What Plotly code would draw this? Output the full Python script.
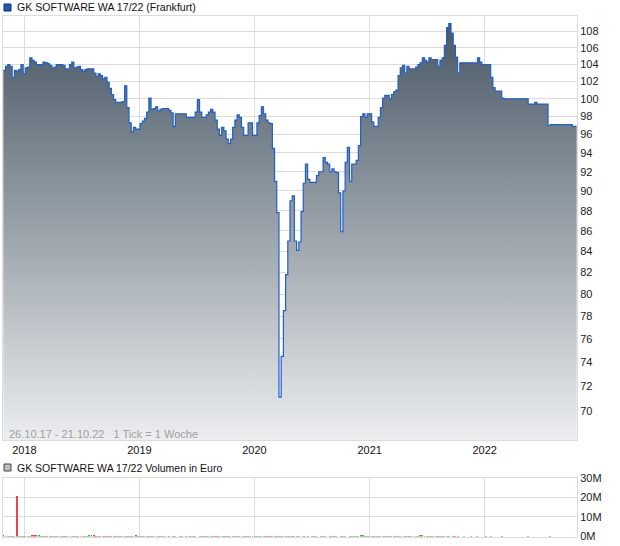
import pandas as pd
import plotly.graph_objects as go

title_main = "GK SOFTWARE WA 17/22 (Frankfurt)"
title_vol = "GK SOFTWARE WA 17/22 Volumen in Euro"
range_note = "26.10.17 - 21.10.22   1 Tick = 1 Woche"

start_date = "2017-10-26"

prices = [
    103.3, 103.8, 104.0, 103.8, 102.5, 103.3, 103.2, 103.4, 104.0, 102.9,
    103.6, 103.7, 104.8, 104.5, 104.3, 104.0, 104.0, 104.0, 104.3, 104.2,
    104.1, 103.9, 103.6, 103.7, 104.0, 104.0, 104.0, 103.9, 103.5, 103.5,
    104.0, 104.3, 103.6, 103.7, 103.8, 103.4, 103.2, 103.4, 103.5, 103.5,
    103.5, 103.0, 102.6, 102.9, 102.7, 102.3, 102.5, 101.9, 101.2, 100.5,
    99.9, 99.6, 99.6, 99.6, 99.7, 101.5, 99.0, 97.3, 96.3, 96.8,
    96.6, 96.6, 97.2, 97.5, 97.8, 98.5, 100.1, 98.8, 98.9, 99.1,
    98.6, 98.8, 98.9, 98.9, 98.9, 98.7, 98.4, 96.9, 98.3, 98.3,
    98.3, 98.3, 98.3, 97.9, 97.9, 97.9, 97.9, 98.5, 99.9, 98.5,
    97.9, 97.9, 98.2, 98.5, 98.8, 98.5, 97.6, 96.6, 95.9, 96.8,
    96.4, 95.5, 95.0, 95.5, 96.8, 97.6, 98.2, 97.9, 96.8, 95.9,
    95.9, 97.3, 97.3, 95.9, 95.9, 97.3, 98.1, 99.1, 98.3, 97.6,
    97.3, 97.2, 94.5, 91.0, 87.8, 71.1, 74.5, 78.5, 81.8, 85.0,
    89.0, 89.5, 85.0, 84.1, 84.9, 87.9, 90.8, 92.8, 91.2, 90.9,
    90.9, 90.9, 91.6, 92.0, 92.0, 93.5, 93.0, 92.8, 92.0, 92.3,
    92.0, 91.9, 89.8, 85.9, 90.0, 93.0, 94.6, 91.0, 92.8, 92.8,
    93.2, 94.8, 98.0, 98.3, 97.9, 98.3, 98.3, 97.4, 96.9, 96.9,
    97.9, 99.0, 100.1, 100.4, 100.4, 100.0, 100.5, 100.8, 101.0, 102.7,
    103.6, 103.9, 103.0, 103.8, 103.5, 103.5, 103.5, 103.7, 104.0, 104.2,
    104.8, 104.5, 104.3, 104.8, 104.6, 104.6, 104.6, 103.8, 104.5, 104.8,
    106.3, 108.5, 109.0, 107.8, 106.3, 104.9, 103.0, 104.2, 104.2, 104.2,
    104.2, 104.2, 104.2, 104.2, 104.2, 104.8, 104.3, 104.0, 104.0, 104.0,
    104.0, 102.5, 101.3, 100.9, 100.9, 100.9, 100.1, 100.0, 100.0, 100.0,
    100.0, 100.0, 100.0, 100.0, 100.0, 100.0, 100.0, 100.0, 99.4, 99.4,
    99.4, 99.6, 99.4, 99.4, 99.4, 99.4, 99.4, 97.0, 97.1, 97.1,
    97.1, 97.1, 97.1, 97.1, 97.1, 97.1, 97.1, 97.1, 96.9, 96.9,
    96.9,
]

volumes_m = [
    0.5, 0.4, 0.3, 0.4, 0.3, 0.2, 21.0, 0.3, 0.4, 0.3,
    0.3, 0.2, 0.4, 0.6, 0.8, 0.9, 0.5, 0.3, 0.2, 0.3,
    0.2, 0.3, 0.2, 0.2, 0.3, 0.2, 0.3, 0.2, 0.2, 0.3,
    0.2, 0.3, 0.2, 0.2, 0.3, 0.2, 0.2, 0.3, 0.2, 0.5,
    0.7, 0.6, 0.4, 0.3, 0.3, 0.2, 0.3, 0.3, 0.2, 0.4,
    0.3, 0.2, 0.3, 0.2, 0.4, 0.3, 0.2, 0.3, 0.2, 0.4,
    1.0, 0.4, 0.2, 0.3, 0.2, 0.1, 0.2, 0.2, 0.1, 0.2,
    0.1, 0.2, 0.1, 0.1, 0.2, 0.1, 0.0, 0.2, 0.1, 0.0,
    0.2, 0.1, 0.0, 0.2, 0.1, 0.1, 0.2, 0.1, 0.0, 0.2,
    0.1, 0.2, 0.1, 0.1, 0.3, 0.1, 0.2, 0.1, 0.2, 0.3,
    0.2, 0.3, 0.4, 0.2, 0.3, 0.2, 0.1, 0.2, 0.3, 0.2,
    0.1, 0.2, 0.2, 0.1, 0.2, 0.1, 0.2, 0.1, 0.1, 0.2,
    0.2, 0.1, 0.3, 0.2, 0.1, 0.3, 0.2, 0.1, 0.2, 0.1,
    0.2, 0.1, 0.1, 0.2, 0.1, 0.0, 0.1, 0.2, 0.1, 0.0,
    0.1, 0.2, 0.1, 0.0, 0.1, 0.1, 0.2, 0.0, 0.1, 0.1,
    0.2, 0.1, 0.0, 0.1, 0.2, 0.1, 0.0, 0.1, 0.2, 0.1,
    0.1, 0.2, 0.5, 0.7, 0.3, 0.2, 0.1, 0.2, 0.1, 0.2,
    0.1, 0.2, 0.1, 0.2, 0.1, 0.3, 0.2, 0.1, 0.2, 0.1,
    0.2, 0.1, 0.1, 0.2, 0.3, 0.1, 0.2, 0.1, 0.2, 0.5,
    0.6, 0.2, 0.1, 0.2, 0.1, 0.2, 0.1, 0.1, 0.2, 0.1,
    0.1, 0.2, 0.1, 0.0, 0.1, 0.2, 0.1, 0.0, 0.0, 0.1,
    0.0, 0.0, 0.1, 0.0, 0.0, 0.1, 0.0, 0.0, 0.0, 0.1,
    0.0, 0.3, 0.0, 0.0, 0.0, 0.0, 0.1, 0.0, 0.0, 0.0,
    0.0, 0.0, 0.0, 0.0, 0.0, 0.0, 0.0, 0.0, 0.3, 0.0,
    0.0, 0.0, 0.0, 0.0, 0.0, 0.0, 0.0, 0.0, 0.1, 0.0,
    0.0, 0.0, 0.0, 0.0, 0.0, 0.0, 0.0, 0.0, 0.0, 0.0,
    0.0,
]

price_ticks = list(range(70, 110, 2))
vol_ticks = [0, 10e6, 20e6, 30e6]
vol_tick_labels = ["0M", "10M", "20M", "30M"]
year_ticks = ["2018-01-01", "2019-01-01", "2020-01-01", "2021-01-01", "2022-01-01"]
year_labels = ["2018", "2019", "2020", "2021", "2022"]

dates = pd.date_range(start_date, periods=len(prices), freq="7D")
volumes = [v * 1e6 for v in volumes_m]
vol_colors = ["#e8474b"] + [
    "#3cb44b" if prices[i] >= prices[i - 1] else "#e8474b" for i in range(1, len(prices))
]

W, H = 620, 546
FONT = "Arial, 'Liberation Sans', sans-serif"
GRID = "#dcdcdc"

x_dom = [3 / W, 577 / W]
y_main = [1 - 440 / H, 1 - 15.5 / H]
y_vol = [1 - 536.5 / H, 1 - 477.7 / H]

fig = go.Figure()

# baseline for the gradient fill (below visible range)
fig.add_trace(go.Scatter(
    x=dates, y=[60] * len(prices), mode="lines", line=dict(width=0, shape="hv"),
    hoverinfo="skip", showlegend=False, xaxis="x", yaxis="y",
))
fig.add_trace(go.Scatter(
    x=dates, y=prices, mode="lines",
    line=dict(color="#1f5fcc", width=1.2, shape="hv"),
    fill="tonexty",
    fillgradient=dict(type="vertical",
                      colorscale=[[0, "#eceef0"], [1, "#465663"]],
                      start=67.7, stop=110),
    showlegend=False, xaxis="x", yaxis="y",
))
fig.add_trace(go.Bar(
    x=dates, y=volumes, marker=dict(color=vol_colors, line=dict(width=0)),
    width=3 * 86400000, showlegend=False, xaxis="x2", yaxis="y2",
))

fig.update_layout(
    width=W, height=H,
    margin=dict(l=0, r=0, t=0, b=0, autoexpand=False),
    paper_bgcolor="white", plot_bgcolor="white",
    font=dict(family=FONT, size=11, color="#222"),
    bargap=0,
    xaxis=dict(
        domain=x_dom, type="date", range=["2017-10-25", "2022-10-21"],
        tickvals=year_ticks, ticktext=year_labels, ticks="",
        showgrid=True, gridcolor=GRID, gridwidth=1,
        showline=True, linecolor=GRID, mirror=True, zeroline=False,
        tickfont=dict(size=11, color="#111"), anchor="y",
    ),
    yaxis=dict(
        domain=y_main, type="log", range=[1.83059, 2.04139],
        side="right", tickvals=price_ticks, ticktext=[str(t) for t in price_ticks],
        ticks="", showgrid=True, gridcolor=GRID, gridwidth=1,
        showline=True, linecolor=GRID, mirror=True, zeroline=False,
        tickfont=dict(size=11, color="#222"), anchor="x",
    ),
    xaxis2=dict(
        domain=x_dom, type="date", range=["2017-10-25", "2022-10-21"],
        tickvals=year_ticks, showticklabels=False, ticks="",
        showgrid=True, gridcolor=GRID, gridwidth=1,
        showline=True, linecolor=GRID, mirror=True, zeroline=False, anchor="y2",
    ),
    yaxis2=dict(
        domain=y_vol, range=[0, 30e6], side="right",
        tickvals=vol_ticks, ticktext=vol_tick_labels, ticks="",
        showgrid=True, gridcolor=GRID, gridwidth=1,
        showline=True, linecolor=GRID, mirror=True, zeroline=False,
        tickfont=dict(size=11, color="#222"), anchor="x2",
    ),
    shapes=[
        dict(type="rect", xref="paper", yref="paper",
             x0=4 / W, x1=11 / W, y0=1 - 11 / H, y1=1 - 4 / H,
             fillcolor="#1f57b8", line=dict(color="#0e2d6e", width=1)),
        dict(type="rect", xref="paper", yref="paper",
             x0=4 / W, x1=11 / W, y0=1 - 471 / H, y1=1 - 464 / H,
             fillcolor="#bdbdbd", line=dict(color="#444", width=1)),
    ],
    annotations=[
        dict(text=title_main, xref="paper", yref="paper", x=15 / W, y=1 - 7.5 / H,
             xanchor="left", yanchor="middle", showarrow=False,
             font=dict(size=10.6, color="#111")),
        dict(text=title_vol, xref="paper", yref="paper", x=15 / W, y=1 - 467.5 / H,
             xanchor="left", yanchor="middle", showarrow=False,
             font=dict(size=10.5, color="#111")),
        dict(text=range_note, xref="paper", yref="paper", x=7 / W, y=1 - 434 / H,
             xanchor="left", yanchor="middle", showarrow=False,
             font=dict(size=11, color="#a0a0a0")),
    ],
)

fig.write_html(
    "out.html",
    config={"displayModeBar": False},
    post_script="document.body.style.margin='0';document.body.style.overflow='hidden';",
)
